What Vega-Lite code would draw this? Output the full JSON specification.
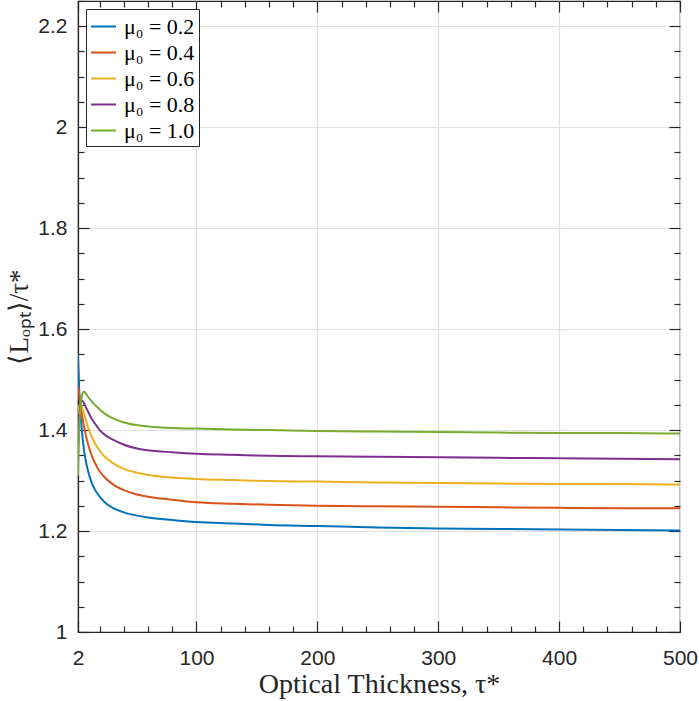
{
  "$schema": "https://vega.github.io/schema/vega-lite/v6.json",
  "width": 602,
  "height": 631,
  "autosize": {"type": "none"},
  "padding": {"left": 78, "top": 1, "right": 19, "bottom": 69},
  "background": "white",
  "config": {
    "view": {"stroke": "#262626", "strokeWidth": 1.2},
    "axis": {
      "domainColor": "#262626",
      "domainWidth": 1.2,
      "tickColor": "#262626",
      "tickWidth": 1.2,
      "labelColor": "#262626",
      "labelFont": "Liberation Sans",
      "labelFontSize": 21,
      "labelFlush": false,
      "labelOverlap": false,
      "titleFont": "Liberation Serif",
      "titleFontWeight": "normal",
      "titleColor": "#262626",
      "gridColor": "#dfdfdf",
      "gridWidth": 1.2
    }
  },
  "data": {
    "values": [
      {"tau": 2, "L": 1.55, "mu": "0.2"}, {"tau": 3, "L": 1.48, "mu": "0.2"}, {"tau": 4, "L": 1.435, "mu": "0.2"},
      {"tau": 5, "L": 1.405, "mu": "0.2"}, {"tau": 6, "L": 1.38, "mu": "0.2"}, {"tau": 7, "L": 1.36, "mu": "0.2"},
      {"tau": 8, "L": 1.345, "mu": "0.2"}, {"tau": 10, "L": 1.322, "mu": "0.2"}, {"tau": 13, "L": 1.298, "mu": "0.2"},
      {"tau": 16, "L": 1.282, "mu": "0.2"}, {"tau": 20, "L": 1.268, "mu": "0.2"}, {"tau": 25, "L": 1.255, "mu": "0.2"},
      {"tau": 30, "L": 1.247, "mu": "0.2"}, {"tau": 40, "L": 1.237, "mu": "0.2"}, {"tau": 50, "L": 1.231, "mu": "0.2"},
      {"tau": 60, "L": 1.227, "mu": "0.2"}, {"tau": 80, "L": 1.222, "mu": "0.2"}, {"tau": 100, "L": 1.218, "mu": "0.2"},
      {"tau": 130, "L": 1.215, "mu": "0.2"}, {"tau": 160, "L": 1.212, "mu": "0.2"}, {"tau": 200, "L": 1.21, "mu": "0.2"},
      {"tau": 250, "L": 1.207, "mu": "0.2"}, {"tau": 300, "L": 1.205, "mu": "0.2"}, {"tau": 350, "L": 1.204, "mu": "0.2"},
      {"tau": 400, "L": 1.203, "mu": "0.2"}, {"tau": 450, "L": 1.202, "mu": "0.2"}, {"tau": 500, "L": 1.201, "mu": "0.2"},

      {"tau": 2, "L": 1.487, "mu": "0.4"}, {"tau": 3, "L": 1.47, "mu": "0.4"}, {"tau": 4, "L": 1.45, "mu": "0.4"},
      {"tau": 5, "L": 1.435, "mu": "0.4"}, {"tau": 6, "L": 1.42, "mu": "0.4"}, {"tau": 7, "L": 1.407, "mu": "0.4"},
      {"tau": 8, "L": 1.395, "mu": "0.4"}, {"tau": 10, "L": 1.375, "mu": "0.4"}, {"tau": 13, "L": 1.352, "mu": "0.4"},
      {"tau": 16, "L": 1.335, "mu": "0.4"}, {"tau": 20, "L": 1.318, "mu": "0.4"}, {"tau": 25, "L": 1.304, "mu": "0.4"},
      {"tau": 30, "L": 1.294, "mu": "0.4"}, {"tau": 40, "L": 1.281, "mu": "0.4"}, {"tau": 50, "L": 1.273, "mu": "0.4"},
      {"tau": 60, "L": 1.268, "mu": "0.4"}, {"tau": 80, "L": 1.262, "mu": "0.4"}, {"tau": 100, "L": 1.257, "mu": "0.4"},
      {"tau": 130, "L": 1.254, "mu": "0.4"}, {"tau": 160, "L": 1.252, "mu": "0.4"}, {"tau": 200, "L": 1.25, "mu": "0.4"},
      {"tau": 250, "L": 1.249, "mu": "0.4"}, {"tau": 300, "L": 1.248, "mu": "0.4"}, {"tau": 350, "L": 1.247, "mu": "0.4"},
      {"tau": 400, "L": 1.246, "mu": "0.4"}, {"tau": 450, "L": 1.245, "mu": "0.4"}, {"tau": 500, "L": 1.245, "mu": "0.4"},

      {"tau": 2, "L": 1.432, "mu": "0.6"}, {"tau": 3, "L": 1.448, "mu": "0.6"}, {"tau": 4, "L": 1.452, "mu": "0.6"},
      {"tau": 5, "L": 1.448, "mu": "0.6"}, {"tau": 6, "L": 1.44, "mu": "0.6"}, {"tau": 7, "L": 1.432, "mu": "0.6"},
      {"tau": 8, "L": 1.424, "mu": "0.6"}, {"tau": 10, "L": 1.408, "mu": "0.6"}, {"tau": 13, "L": 1.389, "mu": "0.6"},
      {"tau": 16, "L": 1.374, "mu": "0.6"}, {"tau": 20, "L": 1.359, "mu": "0.6"}, {"tau": 25, "L": 1.345, "mu": "0.6"},
      {"tau": 30, "L": 1.336, "mu": "0.6"}, {"tau": 40, "L": 1.323, "mu": "0.6"}, {"tau": 50, "L": 1.316, "mu": "0.6"},
      {"tau": 60, "L": 1.311, "mu": "0.6"}, {"tau": 80, "L": 1.306, "mu": "0.6"}, {"tau": 100, "L": 1.303, "mu": "0.6"},
      {"tau": 130, "L": 1.301, "mu": "0.6"}, {"tau": 160, "L": 1.299, "mu": "0.6"}, {"tau": 200, "L": 1.298, "mu": "0.6"},
      {"tau": 250, "L": 1.296, "mu": "0.6"}, {"tau": 300, "L": 1.295, "mu": "0.6"}, {"tau": 350, "L": 1.294, "mu": "0.6"},
      {"tau": 400, "L": 1.293, "mu": "0.6"}, {"tau": 450, "L": 1.293, "mu": "0.6"}, {"tau": 500, "L": 1.292, "mu": "0.6"},

      {"tau": 2, "L": 1.373, "mu": "0.8"}, {"tau": 3, "L": 1.425, "mu": "0.8"}, {"tau": 4, "L": 1.45, "mu": "0.8"},
      {"tau": 5, "L": 1.458, "mu": "0.8"}, {"tau": 6, "L": 1.457, "mu": "0.8"}, {"tau": 7, "L": 1.453, "mu": "0.8"},
      {"tau": 8, "L": 1.448, "mu": "0.8"}, {"tau": 10, "L": 1.438, "mu": "0.8"}, {"tau": 13, "L": 1.424, "mu": "0.8"},
      {"tau": 16, "L": 1.413, "mu": "0.8"}, {"tau": 20, "L": 1.4, "mu": "0.8"}, {"tau": 25, "L": 1.389, "mu": "0.8"},
      {"tau": 30, "L": 1.382, "mu": "0.8"}, {"tau": 40, "L": 1.371, "mu": "0.8"}, {"tau": 50, "L": 1.364, "mu": "0.8"},
      {"tau": 60, "L": 1.36, "mu": "0.8"}, {"tau": 80, "L": 1.356, "mu": "0.8"}, {"tau": 100, "L": 1.353, "mu": "0.8"},
      {"tau": 130, "L": 1.351, "mu": "0.8"}, {"tau": 160, "L": 1.349, "mu": "0.8"}, {"tau": 200, "L": 1.348, "mu": "0.8"},
      {"tau": 250, "L": 1.347, "mu": "0.8"}, {"tau": 300, "L": 1.346, "mu": "0.8"}, {"tau": 350, "L": 1.345, "mu": "0.8"},
      {"tau": 400, "L": 1.344, "mu": "0.8"}, {"tau": 450, "L": 1.343, "mu": "0.8"}, {"tau": 500, "L": 1.342, "mu": "0.8"},

      {"tau": 2, "L": 1.31, "mu": "1.0"}, {"tau": 3, "L": 1.4, "mu": "1.0"}, {"tau": 4, "L": 1.445, "mu": "1.0"},
      {"tau": 5, "L": 1.465, "mu": "1.0"}, {"tau": 6, "L": 1.474, "mu": "1.0"}, {"tau": 7, "L": 1.476, "mu": "1.0"},
      {"tau": 8, "L": 1.474, "mu": "1.0"}, {"tau": 10, "L": 1.467, "mu": "1.0"}, {"tau": 13, "L": 1.458, "mu": "1.0"},
      {"tau": 16, "L": 1.45, "mu": "1.0"}, {"tau": 20, "L": 1.441, "mu": "1.0"}, {"tau": 25, "L": 1.431, "mu": "1.0"},
      {"tau": 30, "L": 1.424, "mu": "1.0"}, {"tau": 40, "L": 1.415, "mu": "1.0"}, {"tau": 50, "L": 1.41, "mu": "1.0"},
      {"tau": 60, "L": 1.407, "mu": "1.0"}, {"tau": 80, "L": 1.404, "mu": "1.0"}, {"tau": 100, "L": 1.403, "mu": "1.0"},
      {"tau": 130, "L": 1.401, "mu": "1.0"}, {"tau": 160, "L": 1.4, "mu": "1.0"}, {"tau": 200, "L": 1.398, "mu": "1.0"},
      {"tau": 250, "L": 1.397, "mu": "1.0"}, {"tau": 300, "L": 1.396, "mu": "1.0"}, {"tau": 350, "L": 1.395, "mu": "1.0"},
      {"tau": 400, "L": 1.394, "mu": "1.0"}, {"tau": 450, "L": 1.394, "mu": "1.0"}, {"tau": 500, "L": 1.393, "mu": "1.0"}
    ]
  },
  "layer": [
    {
      "mark": {"type": "line", "strokeWidth": 2, "interpolate": "monotone", "clip": true},
      "encoding": {
        "x": {
          "field": "tau",
          "type": "quantitative",
          "scale": {"domain": [2, 500], "nice": false, "zero": false},
          "axis": {
            "orient": "bottom",
            "values": [2, 100, 200, 300, 400, 500],
            "format": "d",
            "ticks": false,
            "grid": true,
            "labelPadding": 15,
            "title": "Optical Thickness, τ*",
            "titleFontSize": 28,
            "titlePadding": 2
          }
        },
        "y": {
          "field": "L",
          "type": "quantitative",
          "scale": {"domain": [1, 2.25], "nice": false, "zero": false},
          "axis": {
            "orient": "left",
            "values": [1, 1.2, 1.4, 1.6, 1.8, 2, 2.2],
            "format": ".1~f",
            "ticks": false,
            "grid": true,
            "labelPadding": 11,
            "title": "⟨Lₒₚₜ⟩/τ*",
            "titleFontSize": 27,
            "titlePadding": 4
          }
        },
        "color": {
          "field": "mu",
          "type": "nominal",
          "scale": {"domain": ["0.2", "0.4", "0.6", "0.8", "1.0"], "range": ["#0072BD", "#D95319", "#EDB120", "#7E2F8E", "#77AC30"]},
          "legend": {
            "orient": "top-left",
            "offset": 8,
            "title": null,
            "labelExpr": "'μ₀ = ' + datum.label",
            "labelFont": "Liberation Serif",
            "labelFontSize": 22,
            "labelColor": "black",
            "labelOffset": 7,
            "symbolType": "stroke",
            "symbolSize": 625,
            "symbolStrokeWidth": 2,
            "rowPadding": 1,
            "padding": 4,
            "fillColor": "white",
            "strokeColor": "#262626"
          }
        }
      }
    },
    {
      "mark": {"type": "point", "opacity": 0},
      "encoding": {
        "x": {
          "field": "tau", "type": "quantitative",
          "scale": {"domain": [2, 500], "nice": false, "zero": false},
          "axis": {"orient": "bottom", "values": [2, 100, 200, 300, 400, 500], "offset": -11, "tickSize": 11, "domain": false, "labels": false, "grid": false, "title": null}
        },
        "y": {
          "field": "L", "type": "quantitative",
          "scale": {"domain": [1, 2.25], "nice": false, "zero": false},
          "axis": {"orient": "left", "values": [1, 1.2, 1.4, 1.6, 1.8, 2, 2.2], "offset": -11, "tickSize": 11, "domain": false, "labels": false, "grid": false, "title": null}
        }
      }
    },
    {
      "mark": {"type": "point", "opacity": 0},
      "encoding": {
        "x": {
          "field": "tau", "type": "quantitative",
          "scale": {"domain": [2, 500], "nice": false, "zero": false},
          "axis": {"orient": "bottom", "values": [20, 40, 60, 80, 120, 140, 160, 180, 220, 240, 260, 280, 320, 340, 360, 380, 420, 440, 460, 480], "offset": -6, "tickSize": 6, "domain": false, "labels": false, "grid": false, "title": null}
        },
        "y": {
          "field": "L", "type": "quantitative",
          "scale": {"domain": [1, 2.25], "nice": false, "zero": false},
          "axis": {"orient": "left", "values": [1.05, 1.1, 1.15, 1.25, 1.3, 1.35, 1.45, 1.5, 1.55, 1.65, 1.7, 1.75, 1.85, 1.9, 1.95, 2.05, 2.1, 2.15, 2.25], "offset": -6, "tickSize": 6, "domain": false, "labels": false, "grid": false, "title": null}
        }
      }
    },
    {
      "mark": {"type": "point", "opacity": 0},
      "encoding": {
        "x": {
          "field": "tau", "type": "quantitative",
          "scale": {"domain": [2, 500], "nice": false, "zero": false},
          "axis": {"orient": "top", "values": [2, 100, 200, 300, 400, 500], "offset": -11, "tickSize": 11, "domain": false, "labels": false, "grid": false, "title": null}
        },
        "y": {
          "field": "L", "type": "quantitative",
          "scale": {"domain": [1, 2.25], "nice": false, "zero": false},
          "axis": {"orient": "right", "values": [1, 1.2, 1.4, 1.6, 1.8, 2, 2.2], "offset": -11, "tickSize": 11, "domain": false, "labels": false, "grid": false, "title": null}
        }
      }
    },
    {
      "mark": {"type": "point", "opacity": 0},
      "encoding": {
        "x": {
          "field": "tau", "type": "quantitative",
          "scale": {"domain": [2, 500], "nice": false, "zero": false},
          "axis": {"orient": "top", "values": [20, 40, 60, 80, 120, 140, 160, 180, 220, 240, 260, 280, 320, 340, 360, 380, 420, 440, 460, 480], "offset": -6, "tickSize": 6, "domain": false, "labels": false, "grid": false, "title": null}
        },
        "y": {
          "field": "L", "type": "quantitative",
          "scale": {"domain": [1, 2.25], "nice": false, "zero": false},
          "axis": {"orient": "right", "values": [1.05, 1.1, 1.15, 1.25, 1.3, 1.35, 1.45, 1.5, 1.55, 1.65, 1.7, 1.75, 1.85, 1.9, 1.95, 2.05, 2.1, 2.15, 2.25], "offset": -6, "tickSize": 6, "domain": false, "labels": false, "grid": false, "title": null}
        }
      }
    }
  ],
  "resolve": {"axis": {"x": "independent", "y": "independent"}}
}
